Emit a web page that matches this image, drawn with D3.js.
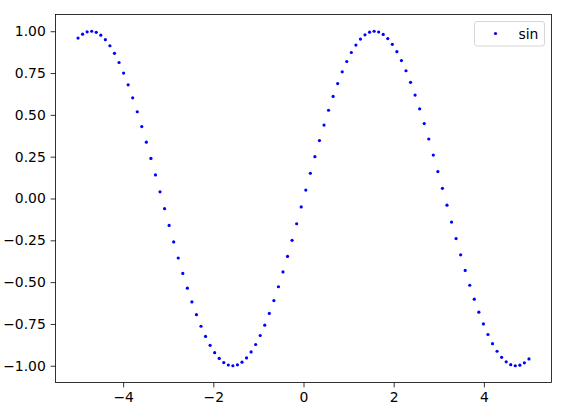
<!DOCTYPE html>
<html><head><meta charset="utf-8">
<script src="https://cdn.jsdelivr.net/npm/d3@7"></script>
<style>body{margin:0;background:#fff}svg{display:block}</style>
</head><body>
<script>
const xValues = [-5.000,-4.899,-4.798,-4.697,-4.596,-4.495,-4.394,-4.293,-4.192,-4.091,
-3.990,-3.889,-3.788,-3.687,-3.586,-3.485,-3.384,-3.283,-3.182,-3.081,
-2.980,-2.879,-2.778,-2.677,-2.576,-2.475,-2.374,-2.273,-2.172,-2.071,
-1.970,-1.869,-1.768,-1.667,-1.566,-1.465,-1.364,-1.263,-1.162,-1.061,
-0.960,-0.859,-0.758,-0.657,-0.556,-0.455,-0.354,-0.253,-0.152,-0.051,
0.051,0.152,0.253,0.354,0.455,0.556,0.657,0.758,0.859,0.960,
1.061,1.162,1.263,1.364,1.465,1.566,1.667,1.768,1.869,1.970,
2.071,2.172,2.273,2.374,2.475,2.576,2.677,2.778,2.879,2.980,
3.081,3.182,3.283,3.384,3.485,3.586,3.687,3.788,3.889,3.990,
4.091,4.192,4.293,4.394,4.495,4.596,4.697,4.798,4.899,5.000];
const sinValues = [0.9589,0.9826,0.9963,0.9999,0.9932,0.9765,0.9497,0.9132,0.8677,0.8131,
0.7501,0.6797,0.6021,0.5187,0.4298,0.3365,0.2398,0.1407,0.0402,-0.0608,
-0.1611,-0.2598,-0.3558,-0.4478,-0.5361,-0.6185,-0.6947,-0.7636,-0.8248,-0.8776,
-0.9215,-0.9560,-0.9807,-0.9954,-1.0000,-0.9944,-0.9786,-0.9529,-0.9174,-0.8727,
-0.8190,-0.7570,-0.6872,-0.6104,-0.5275,-0.4391,-0.3462,-0.2498,-0.1509,-0.0505,
0.0505,0.1509,0.2498,0.3462,0.4391,0.5275,0.6104,0.6872,0.7570,0.8190,
0.8727,0.9174,0.9529,0.9786,0.9944,1.0000,0.9954,0.9807,0.9560,0.9215,
0.8776,0.8248,0.7636,0.6947,0.6185,0.5361,0.4478,0.3558,0.2598,0.1611,
0.0608,-0.0402,-0.1407,-0.2398,-0.3365,-0.4298,-0.5187,-0.6021,-0.6797,-0.7501,
-0.8131,-0.8677,-0.9132,-0.9497,-0.9765,-0.9932,-0.9999,-0.9963,-0.9826,-0.9589];
const xTicks = [-4,-2,0,2,4];
const yTicks = [-1.00,-0.75,-0.50,-0.25,0.00,0.25,0.50,0.75,1.00];
const seriesName = "sin";

const W = 568, H = 412;
const L = 55.5, R = 551.5, T = 14.5, B = 382.5;
const FS = 13.9, TK = 4.86;
const svg = d3.select("body").append("svg").attr("width", W).attr("height", H);
const x = d3.scaleLinear().domain([-5.5, 5.5]).range([L, R]);
const y = d3.scaleLinear().domain([-1.1, 1.1]).range([B, T]);
const font = "DejaVu Sans, sans-serif";
const fmtMinus = s => s.replace("-", "\u2212");

svg.append("g").selectAll("circle").data(xValues.map((v,i)=>[v, sinValues[i]]))
  .join("circle").attr("cx", d=>x(d[0])).attr("cy", d=>y(d[1])).attr("r", 1.6).attr("fill", "#0000ff");

const xAxis = svg.append("g").attr("transform", `translate(0,${B})`)
  .call(d3.axisBottom(x).tickValues(xTicks).tickSize(TK).tickPadding(TK).tickFormat(d=>fmtMinus(d3.format("d")(d))));
const yAxis = svg.append("g").attr("transform", `translate(${L},0)`)
  .call(d3.axisLeft(y).tickValues(yTicks).tickSize(TK).tickPadding(TK).tickFormat(d=>fmtMinus(d3.format(".2f")(d))));
[xAxis, yAxis].forEach(g => {
  g.select(".domain").remove();
  g.selectAll("text").attr("font-family", font).attr("font-size", FS).attr("fill", "#000");
  g.selectAll("line").attr("stroke", "#000").attr("stroke-width", 0.8);
});

svg.append("rect").attr("x", L).attr("y", T).attr("width", R-L).attr("height", B-T)
  .attr("fill", "none").attr("stroke", "#000").attr("stroke-width", 0.8);

const lg = svg.append("g");
lg.append("rect").attr("x", 474.5).attr("y", 21.5).attr("width", 70).attr("height", 24.5).attr("rx", 2.5)
  .attr("fill", "#fff").attr("fill-opacity", 0.8).attr("stroke", "#cccccc").attr("stroke-width", 0.8);
lg.append("circle").attr("cx", 495.5).attr("cy", 33.5).attr("r", 1.6).attr("fill", "#0000ff");
lg.append("text").attr("x", 518.5).attr("y", 38.5).attr("font-family", font).attr("font-size", FS).text(seriesName);
</script>
</body></html>
